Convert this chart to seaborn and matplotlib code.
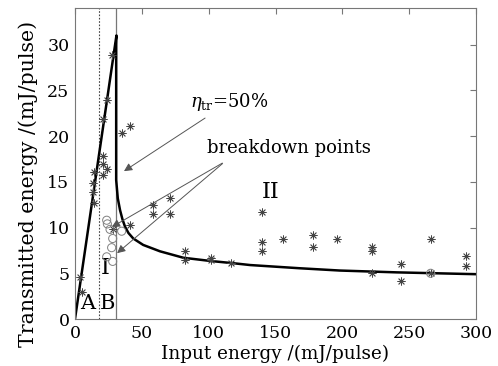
import numpy as np
import pandas as pd
import matplotlib
matplotlib.use("Agg")
import matplotlib.pyplot as plt
import seaborn as sns

# model curve
curve_x = [0, 31.0, 30.8, 30.8, 32.0, 33.7, 35.5, 37.4, 40.0, 43.6, 51, 63.6, 81, 101, 118.4, 131, 168, 198, 240.6, 300]
curve_y = [0, 31.0, 30.0, 15.2, 13.2, 11.9, 10.9, 10.1, 9.4, 8.8, 8.1, 7.4, 6.7, 6.35, 6.1, 5.9, 5.55, 5.3, 5.1, 4.9]

# measured points, asterisks
star_x = [3.7, 5.0, 13.7, 13.7, 14.2, 14.2, 21.2, 21.2, 23.7, 21.2, 21.2, 23.7, 27.9,
          28.2, 34.9, 41.0, 41.0, 58.6, 58.6, 71.0, 71.0, 82.3, 82.3, 102, 102, 117,
          140, 140, 140, 155.8, 178.2, 178.2, 195.7, 221.9, 221.9, 221.9,
          243.6, 243.6, 266, 266, 292.2, 292.2]
star_y = [4.6, 3.0, 14.9, 13.9, 16.1, 12.7, 17.8, 17.0, 16.4, 15.8, 21.9, 24.0, 28.9,
          9.8, 20.3, 21.1, 10.3, 12.5, 11.5, 13.2, 11.5, 7.4, 6.4, 6.7, 6.4, 6.1,
          11.7, 8.4, 7.4, 8.8, 9.2, 7.9, 8.7, 7.9, 7.4, 5.0,
          6.0, 4.2, 8.7, 5.0, 6.9, 5.8]

# measured points, open circles
circ_x = [23.7, 24.2, 26.2, 28.2, 27.4, 23.7, 28.2, 34.9, 266]
circ_y = [10.8, 10.4, 9.8, 8.8, 7.8, 6.8, 6.3, 9.6, 5.0]

sns.set_theme(style="white")
plt.rcParams["font.family"] = ["DejaVu Serif"]
plt.rcParams["mathtext.fontset"] = "dejavuserif"
plt.rcParams["text.color"] = "black"
plt.rcParams["axes.labelcolor"] = "black"
plt.rcParams["xtick.labelcolor"] = "black"
plt.rcParams["ytick.labelcolor"] = "black"

fig = plt.figure(figsize=(4.98, 3.66), dpi=100)
ax = fig.add_axes([0.1506, 0.1284, 0.8054, 0.8496])

# region boundaries
ax.axvline(18, color="#444444", lw=0.8, ls=(0, (1.5, 1.5)))
ax.axvline(30.5, color="#777777", lw=0.9)

sns.lineplot(x=curve_x, y=curve_y, ax=ax, color="black", lw=1.8, sort=False, estimator=None)

sns.scatterplot(x=star_x, y=star_y, ax=ax, marker=(8, 2, 0), s=28,
                color="#444444", edgecolor="#444444", linewidth=0.6, zorder=4)
sns.scatterplot(x=circ_x, y=circ_y, ax=ax, marker="o", s=34,
                facecolor="none", edgecolor="#808080", linewidth=0.7, zorder=4)

arrow = dict(arrowstyle="-|>", color="#555555", lw=0.7, mutation_scale=12)
ax.annotate(r"$\eta_{\rm tr}$=50%", xy=(34.9, 16.0), xytext=(86, 23.7),
            fontsize=13, va="center", ha="left", arrowprops=arrow)
ax.text(98.7, 18.7, "breakdown points", fontsize=13, va="center", ha="left")
ax.annotate("", xy=(25.7, 9.9), xytext=(112, 17.2), arrowprops=arrow)
ax.annotate("", xy=(29.9, 7.0), xytext=(112, 17.2), arrowprops=arrow)

ax.text(146, 13.9, "II", fontsize=16, ha="center", va="center")
ax.text(22.4, 5.6, "I", fontsize=16, ha="center", va="center")
ax.text(9.7, 1.75, "A", fontsize=15, ha="center", va="center")
ax.text(24, 1.75, "B", fontsize=15, ha="center", va="center")

ax.set_xlim(0, 300)
ax.set_ylim(0, 34)
ax.set_xticks([0, 50, 100, 150, 200, 250, 300])
ax.set_yticks([0, 5, 10, 15, 20, 25, 30])
ax.tick_params(direction="in", length=4, width=0.8, color="#777777",
               top=True, right=True, labelsize=12.5, pad=4)
for s in ax.spines.values():
    s.set_color("#777777")
    s.set_linewidth(0.8)

ax.set_xlabel("Input energy /(mJ/pulse)", fontsize=13.2)
ax.set_ylabel("Transmitted energy /(mJ/pulse)", fontsize=14.8)
ax.xaxis.set_label_coords(0.5, -0.082)
ax.yaxis.set_label_coords(-0.092, 0.434)

fig.savefig("out.png", dpi=100)
